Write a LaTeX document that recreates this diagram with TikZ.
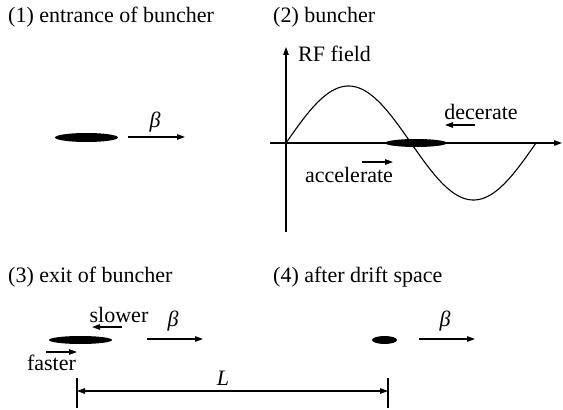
\documentclass[tikz,border=0pt]{standalone}
\usepackage{fontspec}
\setmainfont{Liberation Serif}
\usetikzlibrary{positioning,arrows.meta,shapes.geometric}

\begin{document}
\begin{tikzpicture}[
    x=1pt, y=1pt,
    every node/.style={font=\fontsize{22}{26}\selectfont, inner sep=0pt},
    titleText/.style={anchor=base west},
    bunchShape/.style={ellipse, fill=black, inner sep=0pt, minimum height=9pt},
    arrowLine/.style={-{Triangle[length=8pt,width=5.5pt]}, line width=1.1pt},
    axisLine/.style={-{Triangle[length=8pt,width=5.5pt]}, line width=1.1pt},
    sineLine/.style={line width=1.1pt},
    tickLine/.style={line width=1.1pt},
    lengthLine/.style={{Triangle[length=8pt,width=5.5pt]}-{Triangle[length=8pt,width=5.5pt]}, line width=1.1pt}
]
    \useasboundingbox (0,0) rectangle (563,410);

    % Titoli dei pannelli
    \node[titleText] (titleA) at (8,387) {(1) entrance of buncher};
    \node[titleText] (titleB) at (273,387) {(2) buncher};
    \node[titleText] (titleC) at (8,127) {(3) exit of buncher};
    \node[titleText] (titleD) at (273,127) {(4) after drift space};

    % (1) pacchetto all'ingresso
    \node[bunchShape, minimum width=63pt] (bunchA) at (86.5,272.5) {};
    \coordinate (betaAstart) at (128,273);
    \coordinate (betaAend) at (185,273);
    \draw[arrowLine] (betaAstart) -- (betaAend);
    \node (betaA) at (155,288) {\textit{β}};

    % (2) assi del buncher
    \coordinate (origin) at (286,267);
    \coordinate (xAxisStart) at (270,267);
    \coordinate (xAxisEnd) at (562,267);
    \coordinate (yAxisStart) at (286,178);
    \coordinate (yAxisEnd) at (286,363);
    \draw[axisLine] (xAxisStart) -- (xAxisEnd);
    \draw[axisLine] (yAxisStart) -- (yAxisEnd);
    \node[anchor=base west] (rfLabel) at (298,348) {RF field};

    % Campo RF sinusoidale
    \draw[sineLine, shift={(origin)}] plot[domain=0:250, samples=120, smooth] (\x, {57*sin(1.44*\x)});

    % Pacchetto nel buncher
    \node[bunchShape, minimum width=62pt, minimum height=8pt] (bunchB) at (416,267) {};
    \node (decLabel) at (481,298) {decerate};
    \coordinate (decStart) at (475,285);
    \coordinate (decEnd) at (445,285);
    \draw[arrowLine] (decStart) -- (decEnd);
    \node (accLabel) at (349,235) {accelerate};
    \coordinate (accStart) at (362,248);
    \coordinate (accEnd) at (393,248);
    \draw[arrowLine] (accStart) -- (accEnd);

    % (3) uscita del buncher
    \node[bunchShape, minimum width=63pt, minimum height=8pt] (bunchC) at (80.5,70) {};
    \node (slowLabel) at (119,95) {slower};
    \coordinate (slowStart) at (122,83);
    \coordinate (slowEnd) at (92,83);
    \draw[arrowLine] (slowStart) -- (slowEnd);
    \node (fastLabel) at (51.5,47) {faster};
    \coordinate (fastStart) at (46,58);
    \coordinate (fastEnd) at (77,58);
    \draw[arrowLine] (fastStart) -- (fastEnd);
    \coordinate (betaCstart) at (147,71);
    \coordinate (betaCend) at (203,71);
    \draw[arrowLine] (betaCstart) -- (betaCend);
    \node (betaC) at (173,89) {\textit{β}};

    % (4) dopo lo spazio di deriva
    \node[bunchShape, minimum width=25pt, minimum height=8pt] (bunchD) at (384.5,70) {};
    \coordinate (betaDstart) at (419,71);
    \coordinate (betaDend) at (475,71);
    \draw[arrowLine] (betaDstart) -- (betaDend);
    \node (betaD) at (445,89) {\textit{β}};

    % Lunghezza di deriva L
    \coordinate (tickLtop) at (77,32);
    \coordinate (tickLbot) at (77,2);
    \coordinate (tickRtop) at (388,32);
    \coordinate (tickRbot) at (388,2);
    \draw[tickLine] (tickLtop) -- (tickLbot);
    \draw[tickLine] (tickRtop) -- (tickRbot);
    \coordinate (lengthLeft) at (77,19);
    \coordinate (lengthRight) at (388,19);
    \draw[lengthLine] (lengthLeft) -- (lengthRight);
    \node (lengthLabel) at (223,32) {\textit{L}};
\end{tikzpicture}
\end{document}
